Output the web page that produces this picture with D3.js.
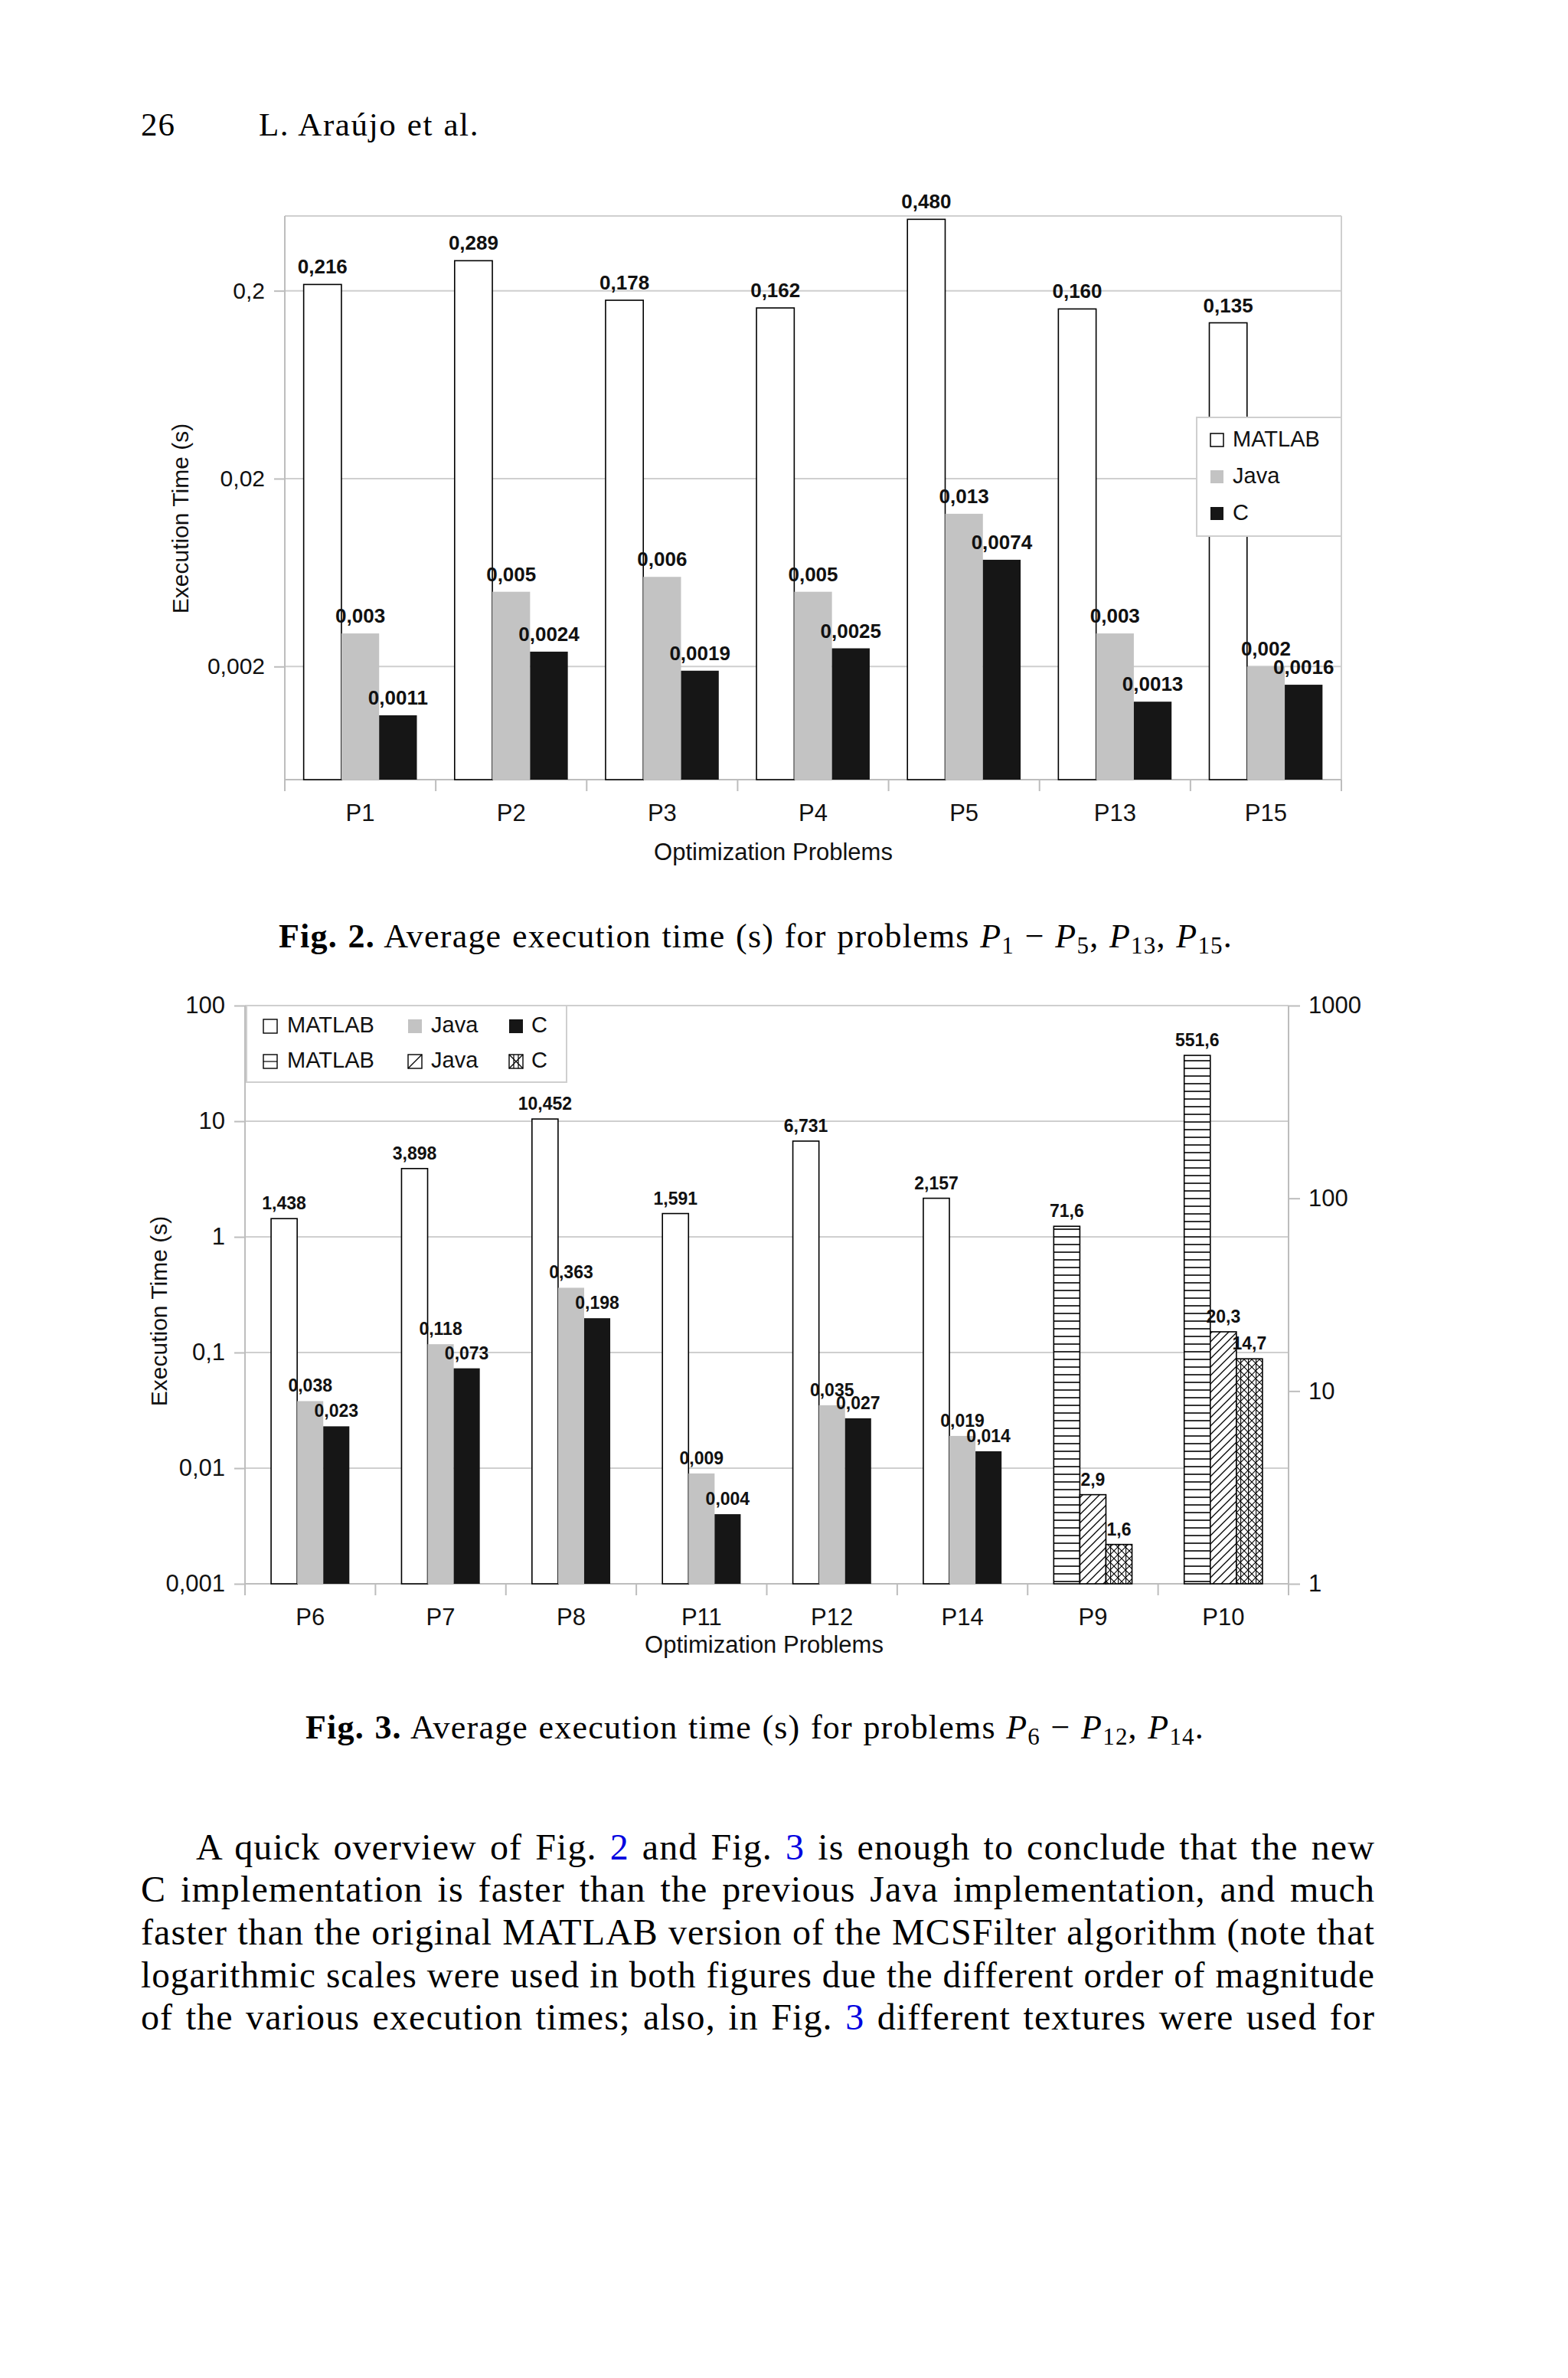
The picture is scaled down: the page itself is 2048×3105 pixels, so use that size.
<!DOCTYPE html>
<html><head><meta charset="utf-8">
<script src="https://cdn.jsdelivr.net/npm/d3@7"></script>
<style>
html,body{margin:0;padding:0;background:#fff;}
svg{display:block;}
</style></head><body>
<svg id="page" width="2048" height="3105"></svg>
<script>
// ---------- Data: Fig. 2 ----------
const series = ["MATLAB", "Java", "C"];
const cats1 = ["P1", "P2", "P3", "P4", "P5", "P13", "P15"];
const matlab1 = [0.216, 0.289, 0.178, 0.162, 0.480, 0.160, 0.135];
const java1 = [0.003, 0.005, 0.006, 0.005, 0.013, 0.003, 0.002];
const c1 = [0.0011, 0.0024, 0.0019, 0.0025, 0.0074, 0.0013, 0.0016];
const matlab1Labels = ["0,216", "0,289", "0,178", "0,162", "0,480", "0,160", "0,135"];
const java1Labels = ["0,003", "0,005", "0,006", "0,005", "0,013", "0,003", "0,002"];
const c1Labels = ["0,0011", "0,0024", "0,0019", "0,0025", "0,0074", "0,0013", "0,0016"];
const yTicks1 = [0.002, 0.02, 0.2];
const yTickLabels1 = ["0,002", "0,02", "0,2"];

// ---------- Data: Fig. 3 ----------
const cats2 = ["P6", "P7", "P8", "P11", "P12", "P14", "P9", "P10"];
const matlab2 = [1.438, 3.898, 10.452, 1.591, 6.731, 2.157, 71.6, 551.6];
const java2 = [0.038, 0.118, 0.363, 0.009, 0.035, 0.019, 2.9, 20.3];
const c2 = [0.023, 0.073, 0.198, 0.004, 0.027, 0.014, 1.6, 14.7];
const matlab2Labels = ["1,438", "3,898", "10,452", "1,591", "6,731", "2,157", "71,6", "551,6"];
const java2Labels = ["0,038", "0,118", "0,363", "0,009", "0,035", "0,019", "2,9", "20,3"];
const c2Labels = ["0,023", "0,073", "0,198", "0,004", "0,027", "0,014", "1,6", "14,7"];
const onRightAxis2 = [false, false, false, false, false, false, true, true];
const yTicks2L = [0.001, 0.01, 0.1, 1, 10, 100];
const yTickLabels2L = ["0,001", "0,01", "0,1", "1", "10", "100"];
const yTicks2R = [1, 10, 100, 1000];
const yTickLabels2R = ["1", "10", "100", "1000"];

// ---------- Styles ----------
const SANS = "Liberation Sans, Arial, sans-serif";
const SERIF = "'Liberation Serif', 'Times New Roman', serif";
const GRID = "#cfcfcf";
const AXIS = "#bdbdbd";
const JAVA = "#c3c3c3";
const CCOL = "#161616";

const svg = d3.select("#page");
svg.append("rect").attr("width", 2048).attr("height", 3105).attr("fill", "#fff");

// patterns
const defs = svg.append("defs");
const p1 = defs.append("pattern").attr("id", "hl").attr("patternUnits", "userSpaceOnUse")
  .attr("width", 10).attr("height", 10);
p1.append("rect").attr("width", 10).attr("height", 10).attr("fill", "#fff");
p1.append("line").attr("x1", 0).attr("x2", 10).attr("y1", 5).attr("y2", 5)
  .attr("stroke", "#000").attr("stroke-width", 1.6);
const p2 = defs.append("pattern").attr("id", "dg").attr("patternUnits", "userSpaceOnUse")
  .attr("width", 11).attr("height", 11);
p2.append("rect").attr("width", 11).attr("height", 11).attr("fill", "#fff");
p2.append("path").attr("d", "M0,11 L11,0 M-3,3 L3,-3 M8,14 L14,8")
  .attr("stroke", "#000").attr("stroke-width", 1.3).attr("fill", "none");
const p3 = defs.append("pattern").attr("id", "cx").attr("patternUnits", "userSpaceOnUse")
  .attr("width", 10).attr("height", 10);
p3.append("rect").attr("width", 10).attr("height", 10).attr("fill", "#fff");
p3.append("path").attr("d", "M0,0 L10,10 M10,0 L0,10 M0.6,0 V10")
  .attr("stroke", "#000").attr("stroke-width", 1.1).attr("fill", "none");

// justify a text element to a target width using word spacing
function justify(t, width) {
  const node = t.node();
  const natural = node.getComputedTextLength();
  const spaces = (node.textContent.match(/ /g) || []).length;
  if (natural < width && spaces > 0) {
    t.style("word-spacing", ((width - natural) / spaces) + "px");
  } else if (natural > width) {
    t.attr("textLength", width).attr("lengthAdjust", "spacingAndGlyphs");
  }
}

// ---------- Header ----------
svg.append("text").attr("x", 184).attr("y", 177).attr("font-family", SERIF)
  .attr("font-size", 43).style("letter-spacing", "1px").text("26");
const hdr = svg.append("text").attr("x", 338).attr("y", 177).attr("font-family", SERIF)
  .attr("font-size", 43).style("letter-spacing", "1.6px").text("L. Araújo et al.");
justify(hdr, 288);

// ================= Fig. 2 =================
(function () {
  const L = 372, R = 1752, T = 282, B = 1018;
  const x = d3.scaleBand().domain(cats1).range([L, R]);
  const y = d3.scaleLog().domain([0.0005, 0.5]).range([B, T]);
  const g = svg.append("g");

  g.selectAll(".grid").data(yTicks1).join("line")
    .attr("x1", L).attr("x2", R).attr("y1", d => y(d)).attr("y2", d => y(d))
    .attr("stroke", GRID).attr("stroke-width", 2);
  g.append("line").attr("x1", L).attr("x2", R).attr("y1", T).attr("y2", T).attr("stroke", GRID).attr("stroke-width", 2);
  g.append("line").attr("x1", R).attr("x2", R).attr("y1", T).attr("y2", B + 15).attr("stroke", GRID).attr("stroke-width", 2);
  g.append("line").attr("x1", L).attr("x2", L).attr("y1", T).attr("y2", B + 15).attr("stroke", AXIS).attr("stroke-width", 2);
  g.append("line").attr("x1", L).attr("x2", R).attr("y1", B).attr("y2", B).attr("stroke", AXIS).attr("stroke-width", 2);

  const ax = d3.axisLeft(y).tickValues(yTicks1).tickFormat((d, i) => yTickLabels1[i])
    .tickSize(14).tickSizeOuter(0).tickPadding(12);
  const ag = g.append("g").attr("transform", `translate(${L},0)`).call(ax);
  ag.select(".domain").remove();
  ag.selectAll(".tick line").attr("stroke", AXIS).attr("stroke-width", 2);
  ag.selectAll(".tick text").attr("font-family", SANS).attr("font-size", 30).attr("fill", "#111");

  const bounds = cats1.map(c => x(c)).concat([R]);
  g.selectAll(".ctick").data(bounds).join("line")
    .attr("x1", d => d).attr("x2", d => d).attr("y1", B).attr("y2", B + 15)
    .attr("stroke", AXIS).attr("stroke-width", 2);

  const bx = d3.axisBottom(x).tickSize(0).tickPadding(0);
  const bg = g.append("g").attr("transform", `translate(0,${B})`).call(bx);
  bg.select(".domain").remove();
  bg.selectAll(".tick text").attr("font-family", SANS).attr("font-size", 31).attr("fill", "#111")
    .attr("dy", null).attr("y", 54);

  const vals = [matlab1, java1, c1];
  const labs = [matlab1Labels, java1Labels, c1Labels];
  const fills = ["#fff", JAVA, CCOL];
  const bw = x.bandwidth() / 4, off = x.bandwidth() / 8;
  series.forEach((s, si) => {
    const data = cats1.map((c, i) => ({ c, v: vals[si][i], l: labs[si][i] }));
    g.selectAll(".bar" + si).data(data).join("rect")
      .attr("x", d => x(d.c) + off + si * bw).attr("width", bw)
      .attr("y", d => y(d.v)).attr("height", d => B - y(d.v))
      .attr("fill", fills[si])
      .attr("stroke", si === 0 ? "#000" : "none").attr("stroke-width", 1.6);
  });
  series.forEach((s, si) => {
    const data = cats1.map((c, i) => ({ c, v: vals[si][i], l: labs[si][i] }));
    g.selectAll(".lab" + si).data(data).join("text")
      .attr("x", d => x(d.c) + off + si * bw + bw / 2)
      .attr("y", d => y(d.v) - 14)
      .attr("text-anchor", "middle").attr("font-family", SANS).attr("font-weight", "bold")
      .attr("font-size", 26).attr("fill", "#111").text(d => d.l);
  });

  g.append("text").attr("transform", "translate(246,677) rotate(-90)")
    .attr("text-anchor", "middle").attr("font-family", SANS).attr("font-size", 30)
    .attr("fill", "#111").text("Execution Time (s)");
  g.append("text").attr("x", 1010).attr("y", 1123).attr("text-anchor", "middle")
    .attr("font-family", SANS).attr("font-size", 31).attr("fill", "#111").text("Optimization Problems");

  const lg = g.append("g");
  lg.append("rect").attr("x", 1563).attr("y", 545).attr("width", 189).attr("height", 155)
    .attr("fill", "#fff").attr("stroke", GRID).attr("stroke-width", 2);
  const ly = [575, 623, 671];
  series.forEach((s, si) => {
    lg.append("rect").attr("x", 1581).attr("y", ly[si] - 9).attr("width", 17).attr("height", 17)
      .attr("fill", fills[si]).attr("stroke", si === 0 ? "#000" : "none").attr("stroke-width", 1.5);
    lg.append("text").attr("x", 1610).attr("y", ly[si]).attr("dominant-baseline", "middle")
      .attr("font-family", SANS).attr("font-size", 29).attr("fill", "#111").text(s);
  });
})();

// ================= Fig. 3 =================
(function () {
  const L = 320, R = 1683, T = 1313, B = 2068;
  const x = d3.scaleBand().domain(cats2).range([L, R]);
  const yL = d3.scaleLog().domain([0.001, 100]).range([B, T]);
  const yR = d3.scaleLog().domain([1, 1000]).range([B, T]);
  const g = svg.append("g");

  g.selectAll(".grid").data(yTicks2L).join("line")
    .attr("x1", L).attr("x2", R).attr("y1", d => yL(d)).attr("y2", d => yL(d))
    .attr("stroke", GRID).attr("stroke-width", 2);
  g.append("line").attr("x1", L).attr("x2", L).attr("y1", T).attr("y2", B + 15).attr("stroke", AXIS).attr("stroke-width", 2);
  g.append("line").attr("x1", R).attr("x2", R).attr("y1", T).attr("y2", B + 15).attr("stroke", AXIS).attr("stroke-width", 2);
  g.append("line").attr("x1", L).attr("x2", R).attr("y1", B).attr("y2", B).attr("stroke", AXIS).attr("stroke-width", 2);

  const axL = d3.axisLeft(yL).tickValues(yTicks2L).tickFormat((d, i) => yTickLabels2L[i])
    .tickSize(14).tickSizeOuter(0).tickPadding(12);
  const agL = g.append("g").attr("transform", `translate(${L},0)`).call(axL);
  agL.select(".domain").remove();
  agL.selectAll(".tick line").attr("stroke", AXIS).attr("stroke-width", 2);
  agL.selectAll(".tick text").attr("font-family", SANS).attr("font-size", 31).attr("fill", "#111");

  const axR = d3.axisRight(yR).tickValues(yTicks2R).tickFormat((d, i) => yTickLabels2R[i])
    .tickSize(15).tickSizeOuter(0).tickPadding(11);
  const agR = g.append("g").attr("transform", `translate(${R},0)`).call(axR);
  agR.select(".domain").remove();
  agR.selectAll(".tick line").attr("stroke", AXIS).attr("stroke-width", 2);
  agR.selectAll(".tick text").attr("font-family", SANS).attr("font-size", 31).attr("fill", "#111");

  const bounds = cats2.map(c => x(c)).concat([R]);
  g.selectAll(".ctick").data(bounds).join("line")
    .attr("x1", d => d).attr("x2", d => d).attr("y1", B).attr("y2", B + 15)
    .attr("stroke", AXIS).attr("stroke-width", 2);

  const bx = d3.axisBottom(x).tickSize(0).tickPadding(0);
  const bg = g.append("g").attr("transform", `translate(0,${B})`).call(bx);
  bg.select(".domain").remove();
  bg.selectAll(".tick text").attr("font-family", SANS).attr("font-size", 31).attr("fill", "#111")
    .attr("dy", null).attr("y", 54);

  const vals = [matlab2, java2, c2];
  const labs = [matlab2Labels, java2Labels, c2Labels];
  const fills = ["#fff", JAVA, CCOL];
  const pats = ["url(#hl)", "url(#dg)", "url(#cx)"];
  const bw = x.bandwidth() / 5, off = x.bandwidth() / 5;
  series.forEach((s, si) => {
    const data = cats2.map((c, i) => ({ c, v: vals[si][i], l: labs[si][i], r: onRightAxis2[i] }));
    g.selectAll(".bar" + si).data(data).join("rect")
      .attr("x", d => x(d.c) + off + si * bw).attr("width", bw)
      .attr("y", d => (d.r ? yR : yL)(d.v)).attr("height", d => B - (d.r ? yR : yL)(d.v))
      .attr("fill", d => d.r ? pats[si] : fills[si])
      .attr("stroke", d => (si === 0 || d.r) ? "#000" : "none").attr("stroke-width", 1.6);
  });
  series.forEach((s, si) => {
    const data = cats2.map((c, i) => ({ c, v: vals[si][i], l: labs[si][i], r: onRightAxis2[i] }));
    g.selectAll(".lab" + si).data(data).join("text")
      .attr("x", d => x(d.c) + off + si * bw + bw / 2)
      .attr("y", d => (d.r ? yR : yL)(d.v) - 12)
      .attr("text-anchor", "middle").attr("font-family", SANS).attr("font-weight", "bold")
      .attr("font-size", 23).attr("fill", "#111").text(d => d.l);
  });

  g.append("text").attr("transform", "translate(218,1712) rotate(-90)")
    .attr("text-anchor", "middle").attr("font-family", SANS).attr("font-size", 30)
    .attr("fill", "#111").text("Execution Time (s)");
  g.append("text").attr("x", 998).attr("y", 2158).attr("text-anchor", "middle")
    .attr("font-family", SANS).attr("font-size", 31).attr("fill", "#111").text("Optimization Problems");

  const lg = g.append("g");
  lg.append("rect").attr("x", 322).attr("y", 1313).attr("width", 418).attr("height", 100)
    .attr("fill", "#fff").attr("stroke", GRID).attr("stroke-width", 2);
  const sx = [344, 533, 665], tx = [375, 563, 694], ry = [1340, 1386];
  series.forEach((s, si) => {
    lg.append("rect").attr("x", sx[si]).attr("y", ry[0] - 9).attr("width", 18).attr("height", 18)
      .attr("fill", fills[si]).attr("stroke", si === 0 ? "#000" : "none").attr("stroke-width", 1.4);
    lg.append("text").attr("x", tx[si]).attr("y", ry[0]).attr("dominant-baseline", "middle")
      .attr("font-family", SANS).attr("font-size", 29).attr("fill", "#111").text(s);
    const x0 = sx[si], y0 = ry[1] - 9, w = 18;
    lg.append("rect").attr("x", x0).attr("y", y0).attr("width", w).attr("height", w)
      .attr("fill", "#fff").attr("stroke", "#000").attr("stroke-width", 1.4);
    let d;
    if (si === 0) d = `M${x0},${y0 + w / 2} H${x0 + w}`;
    else if (si === 1) d = `M${x0},${y0 + w} L${x0 + w},${y0}`;
    else d = `M${x0},${y0} L${x0 + w},${y0 + w} M${x0 + w},${y0} L${x0},${y0 + w} M${x0 + w / 3},${y0} V${y0 + w} M${x0 + 2 * w / 3},${y0} V${y0 + w}`;
    lg.append("path").attr("d", d).attr("stroke", "#000").attr("stroke-width", 1.2).attr("fill", "none");
    lg.append("text").attr("x", tx[si]).attr("y", ry[1]).attr("dominant-baseline", "middle")
      .attr("font-family", SANS).attr("font-size", 29).attr("fill", "#111").text(s);
  });
})();

// ---------- Captions ----------
function caption(num, parts, x0, y0, width) {
  const t = svg.append("text").attr("x", x0).attr("y", y0).attr("font-family", SERIF)
    .attr("font-size", 44).attr("fill", "#000").style("letter-spacing", "1.2px");
  t.append("tspan").attr("font-weight", "bold").text("Fig. " + num + ".");
  t.append("tspan").text(" Average execution time (s) for problems ");
  parts.forEach(p => {
    t.append("tspan").attr("font-style", "italic").text("P");
    t.append("tspan").attr("font-size", 31).attr("dy", 8).text(p.sub);
    t.append("tspan").attr("dy", -8).text(p.after);
  });
  justify(t, width);
}
caption(2, [{ sub: "1", after: " − " }, { sub: "5", after: ", " }, { sub: "13", after: ", " }, { sub: "15", after: "." }], 364, 1237, 1246);
caption(3, [{ sub: "6", after: " − " }, { sub: "12", after: ", " }, { sub: "14", after: "." }], 399, 2270, 1174);

// ---------- Body text ----------
const bodyLines = [
  { x: 256, parts: ["A quick overview of Fig. ", ["2"], " and Fig. ", ["3"], " is enough to conclude that the new"] },
  { x: 184, parts: ["C implementation is faster than the previous Java implementation, and much"] },
  { x: 184, parts: ["faster than the original MATLAB version of the MCSFilter algorithm (note that"] },
  { x: 184, parts: ["logarithmic scales were used in both figures due the different order of magnitude"] },
  { x: 184, parts: ["of the various execution times; also, in Fig. ", ["3"], " different textures were used for"] }
];
const bodyY = [2428, 2483, 2539, 2595, 2650];
bodyLines.forEach((ln, i) => {
  const t = svg.append("text").attr("x", ln.x).attr("y", bodyY[i]).attr("font-family", SERIF)
    .attr("font-size", 48).attr("fill", "#000").style("letter-spacing", "1.1px");
  ln.parts.forEach(p => {
    if (Array.isArray(p)) t.append("tspan").attr("fill", "#0000e0").text(p[0]);
    else t.append("tspan").text(p);
  });
  justify(t, 1796 - ln.x);
});
</script>
</body></html>
